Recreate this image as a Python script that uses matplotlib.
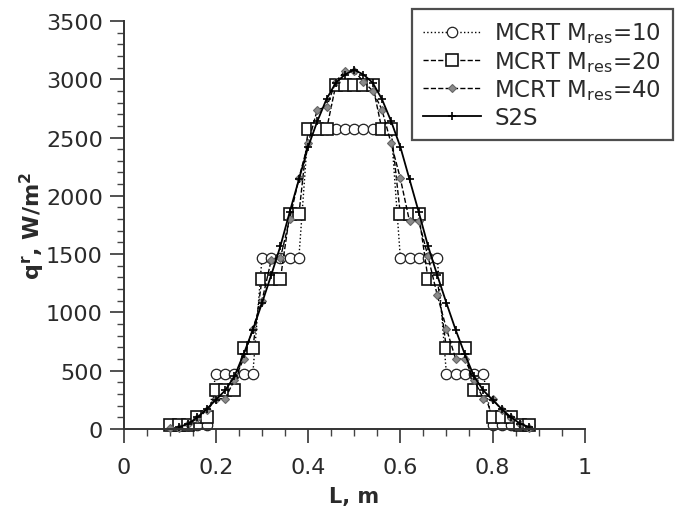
import numpy as np
import matplotlib.pyplot as plt
from matplotlib.ticker import MultipleLocator

# sample positions along L, m
L = [0.10, 0.12, 0.14, 0.16, 0.18, 0.20, 0.22, 0.24, 0.26, 0.28,
     0.30, 0.32, 0.34, 0.36, 0.38, 0.40, 0.42, 0.44, 0.46, 0.48,
     0.50, 0.52, 0.54, 0.56, 0.58, 0.60, 0.62, 0.64, 0.66, 0.68,
     0.70, 0.72, 0.74, 0.76, 0.78, 0.80, 0.82, 0.84, 0.86, 0.88]

# MCRT, Mres = 10
q_m10 = [30, 30, 30, 30, 30, 470, 470, 470, 470, 470,
         1470, 1470, 1470, 1470, 1470, 2570, 2570, 2570, 2570, 2570,
         2570, 2570, 2570, 2570, 2570, 1470, 1470, 1470, 1470, 1470,
         470, 470, 470, 470, 470, 30, 30, 30, 30, 30]

# MCRT, Mres = 20
q_m20 = [30, 30, 30, 100, 100, 330, 330, 330, 690, 690,
         1290, 1290, 1290, 1840, 1840, 2570, 2570, 2570, 2950, 2950,
         2950, 2950, 2950, 2570, 2570, 1840, 1840, 1840, 1290, 1290,
         690, 690, 690, 330, 330, 100, 100, 100, 30, 30]

# MCRT, Mres = 40
q_m40 = [10, 10, 40, 90, 160, 260, 260, 420, 600, 860,
         1100, 1450, 1470, 1800, 2150, 2450, 2740, 2760, 2980, 3070,
         3070, 2980, 2900, 2740, 2450, 2150, 1780, 1780, 1480, 1150,
         860, 600, 600, 420, 260, 260, 160, 90, 40, 10]

# S2S reference
L_s2s = L[1:]
q_s2s = [15, 45, 100, 170, 250, 330, 450, 640, 850,
         1080, 1320, 1570, 1860, 2140, 2420, 2640, 2830, 2970, 3040,
         3080, 3040, 2970, 2830, 2640, 2420, 2140, 1860, 1570, 1320,
         1080, 850, 640, 450, 330, 250, 170, 100, 45, 15]

plt.rcParams['mathtext.default'] = 'regular'
txt = '#2a2a2a'

fig = plt.figure(figsize=(6.76, 5.10), dpi=100)
ax = fig.add_axes([0.183, 0.157, 0.682, 0.80])

ax.plot(L, q_m10, ':', color='k', lw=1.0, marker='o', ms=7.5,
        mfc='white', mec='#222', mew=0.9, label='MCRT M$_{res}$=10', clip_on=False)
ax.plot(L, q_m20, '--', color='k', lw=1.0, marker='s', ms=8.5,
        mfc='white', mec='#111', mew=1.2, label='MCRT M$_{res}$=20', clip_on=False)
ax.plot(L, q_m40, '--', color='k', lw=1.0, marker='D', ms=4.5,
        mfc='#8a8a8a', mec='#666', mew=0.8, label='MCRT M$_{res}$=40', clip_on=False)
ax.plot(L_s2s, q_s2s, '-', color='k', lw=1.3, marker='+', ms=6,
        mew=1.2, label='S2S', clip_on=False)

ax.set_xlim(0, 1)
ax.set_ylim(0, 3500)
ax.xaxis.set_minor_locator(MultipleLocator(0.05))
ax.yaxis.set_major_locator(MultipleLocator(500))
ax.yaxis.set_minor_locator(MultipleLocator(100))
ax.set_xticks([0, 0.2, 0.4, 0.6, 0.8, 1.0])
ax.set_xticklabels(['0', '0.2', '0.4', '0.6', '0.8', '1'])

for s in ['top', 'right']:
    ax.spines[s].set_visible(False)
for s in ['left', 'bottom']:
    ax.spines[s].set_linewidth(1.4)
    ax.spines[s].set_color('#333')

ax.tick_params(which='major', direction='out', length=10, width=1.2,
               color='#333', labelsize=16, labelcolor=txt)
ax.tick_params(axis='x', which='major', pad=10)
ax.tick_params(axis='y', which='major', pad=5)
ax.tick_params(which='minor', direction='out', length=5, width=1.0, color='#444')

ax.set_xlabel('L, m', fontsize=15, fontweight='bold', color=txt, labelpad=7)
ax.set_ylabel(r'q$^{\bf r}$, W/m$^{\bf 2}$', fontsize=16, fontweight='bold',
              color=txt, labelpad=-1)

leg = ax.legend(loc='upper right', bbox_to_anchor=(1.191, 1.029), borderaxespad=0,
                fontsize=16.5, frameon=True, fancybox=False, handlelength=2.5,
                borderpad=0.5, labelspacing=0.15, handletextpad=0.6)
leg.get_frame().set_edgecolor('#222')
leg.get_frame().set_linewidth(1.6)
for t in leg.get_texts():
    t.set_color(txt)

fig.savefig('out.png', dpi=100)
